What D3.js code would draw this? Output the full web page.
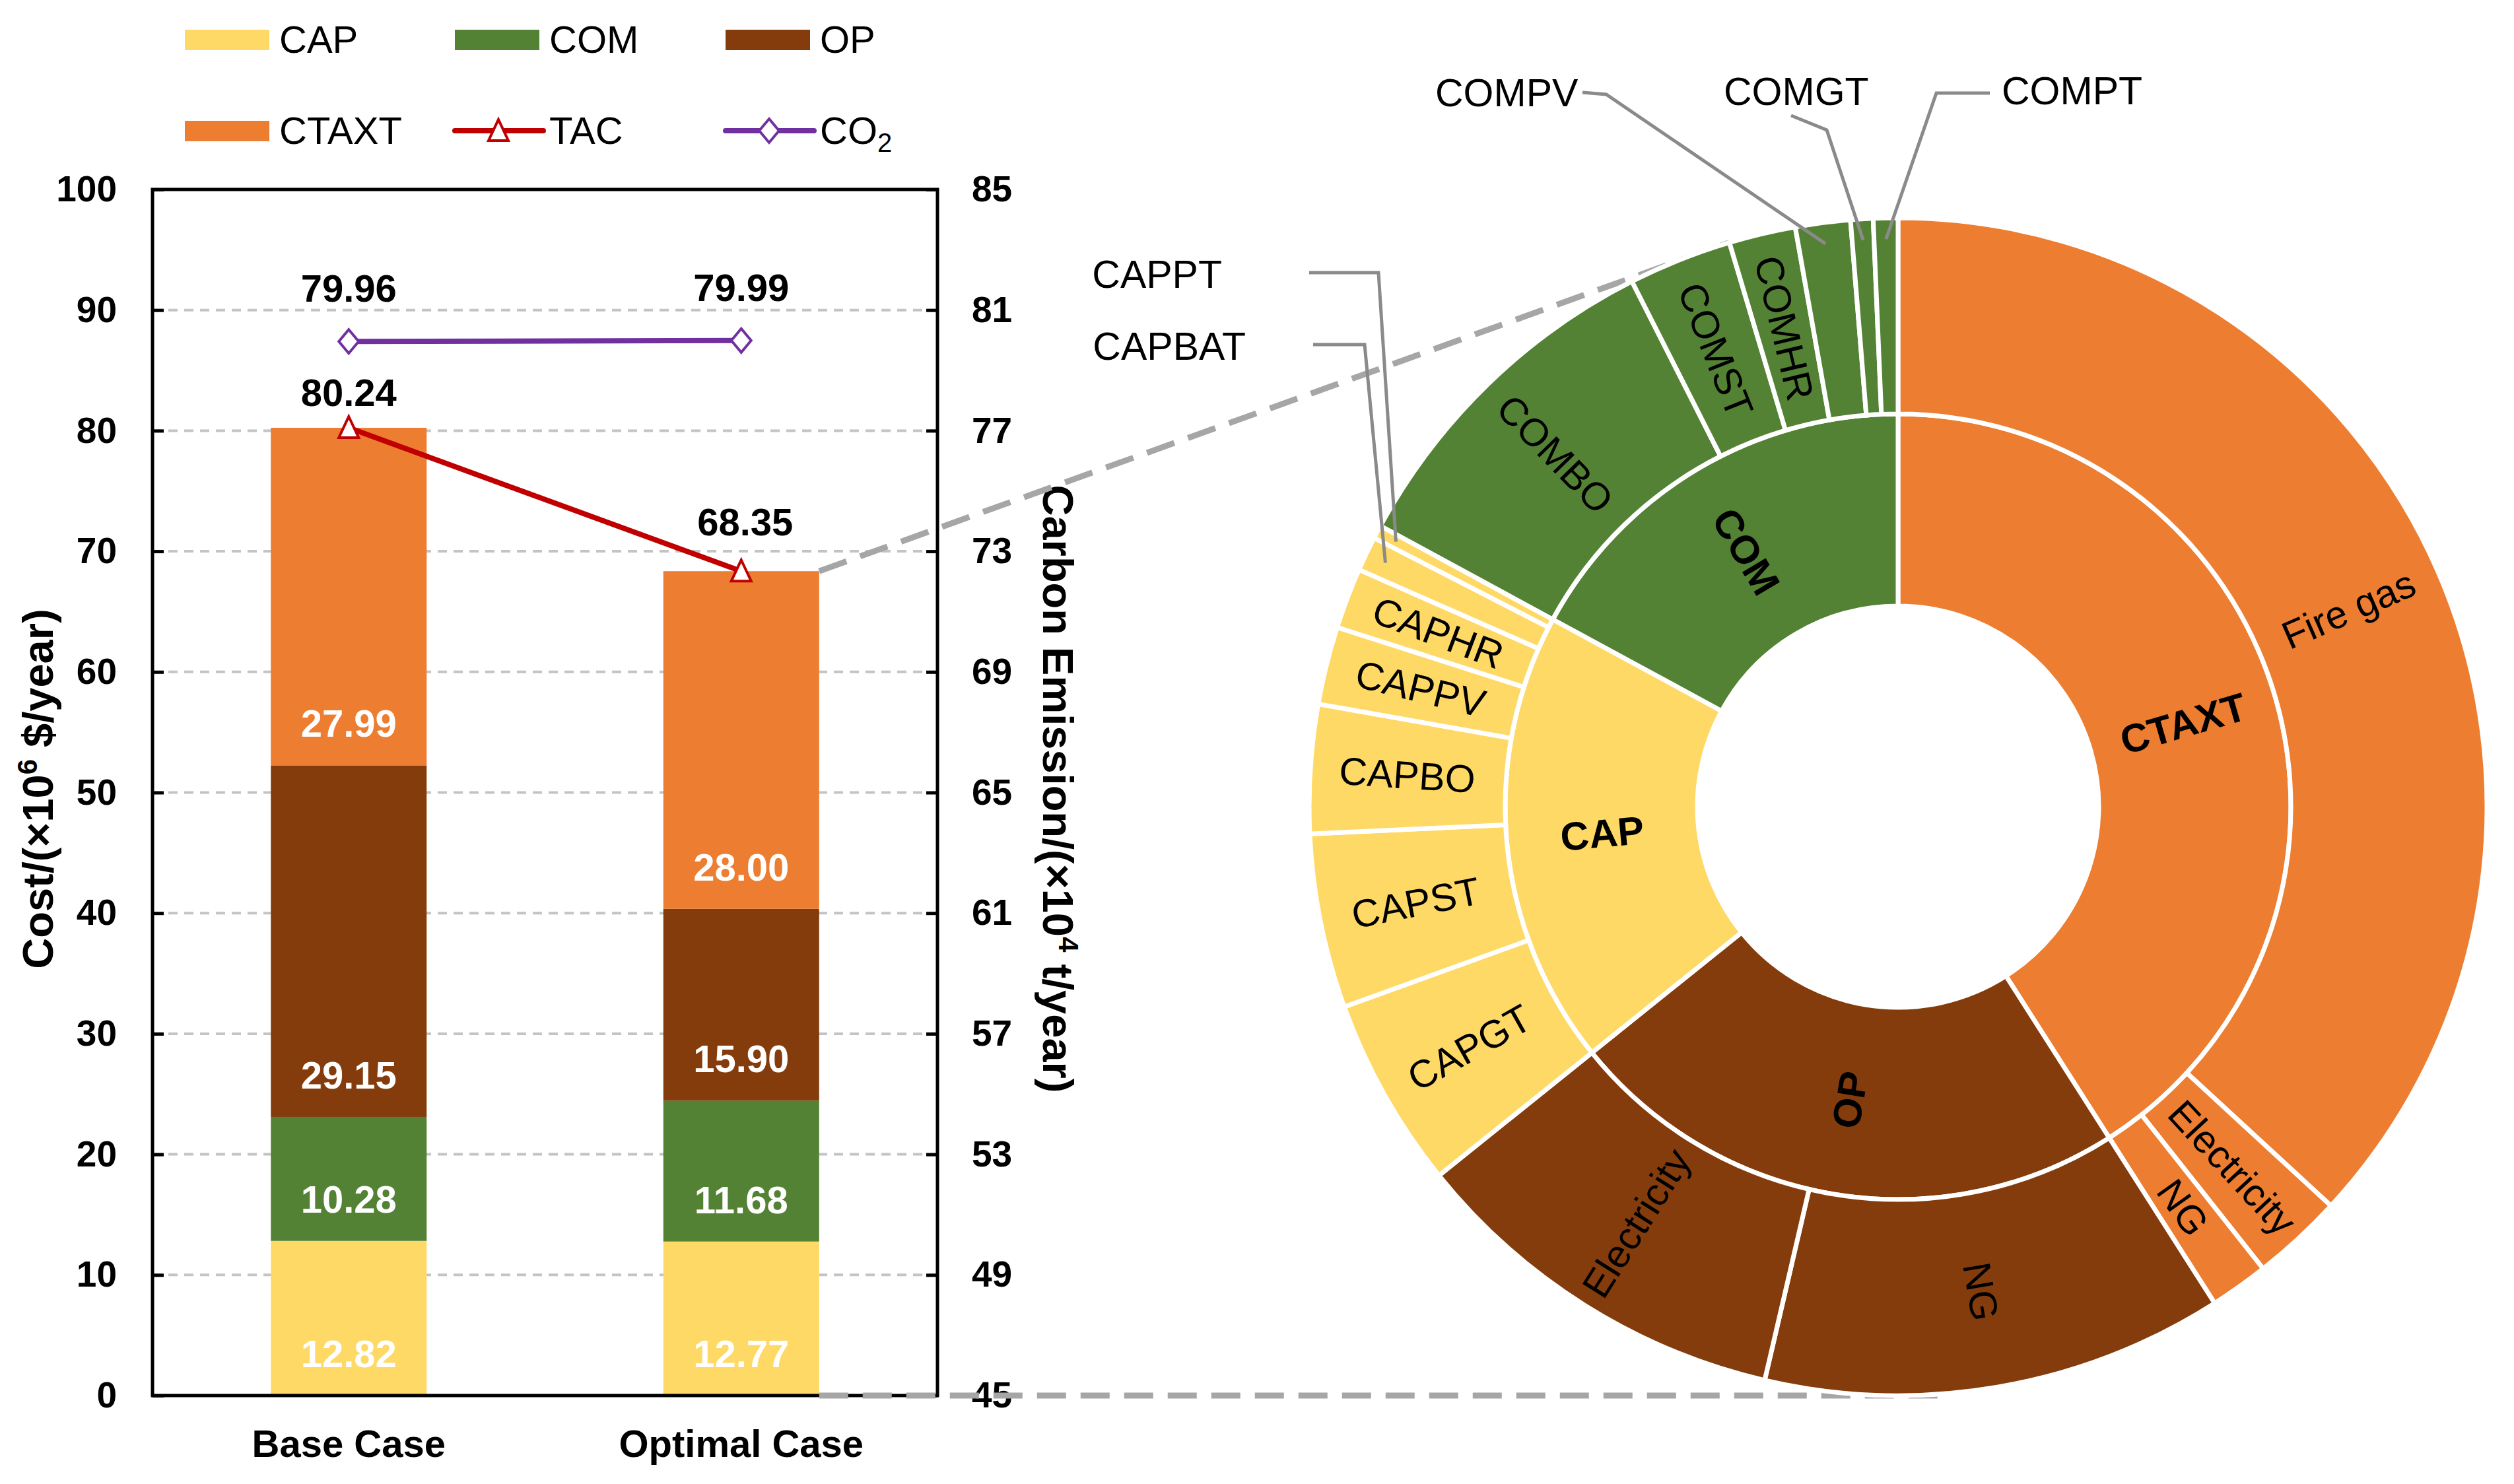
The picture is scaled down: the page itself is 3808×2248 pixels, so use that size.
<!DOCTYPE html>
<html><head><meta charset="utf-8">
<script src="https://cdn.jsdelivr.net/npm/d3@7"></script>
<style>
body{margin:0;background:#fff}
text{font-family:"Liberation Sans",Arial,Helvetica,sans-serif}
</style>
</head><body>
<svg id="c" width="3808" height="2248"></svg>
<script>
// ---------- DATA ----------
const categories = ["Base Case", "Optimal Case"];
const seriesNames = ["CAP", "COM", "OP", "CTAXT"];
const capValues = [12.82, 12.77];
const comValues = [10.28, 11.68];
const opValues = [29.15, 15.90];
const ctaxtValues = [27.99, 28.00];
const tacValues = [80.24, 68.35];
const co2Values = [79.96, 79.99];
const costTicks = [0, 10, 20, 30, 40, 50, 60, 70, 80, 90, 100];
const co2Ticks = [45, 49, 53, 57, 61, 65, 69, 73, 77, 81, 85];

// Sunburst: breakdown of the Optimal Case
const ringParents = ["CTAXT", "OP", "CAP", "COM"];
const ctaxtChildren = ["Fire gas", "Electricity", "NG"];
const ctaxtChildValues = [25.19, 1.71, 1.10];
const opChildren = ["NG", "Electricity"];
const opChildValues = [8.66, 7.24];
const capChildren = ["CAPGT", "CAPST", "CAPBO", "CAPPV", "CAPHR", "CAPBAT", "CAPPT"];
const capChildValues = [3.59, 3.27, 2.41, 1.46, 1.14, 0.65, 0.25];
const comChildren = ["COMBO", "COMST", "COMHR", "COMPV", "COMGT", "COMPT"];
const comChildValues = [6.58, 1.94, 1.25, 1.03, 0.42, 0.46];

// ---------- STYLE ----------
const colors = {CAP: "#FFD966", COM: "#548235", OP: "#843C0C", CTAXT: "#ED7D31"};
const tacColor = "#C00000", co2Color = "#7030A0";
const svg = d3.select("#c");
const plot = {l: 231, r: 1420, t: 287, b: 2114};

const y = d3.scaleLinear().domain([0, 100]).range([plot.b, plot.t]);
const y2 = d3.scaleLinear().domain([45, 85]).range([plot.b, plot.t]);
const x = d3.scalePoint().domain(categories).range([plot.l, plot.r]).padding(0.5);
const bw = 236;

// gridlines
svg.append("g").selectAll("line").data(costTicks.filter(t => t > 0 && t < 100)).join("line")
  .attr("x1", plot.l).attr("x2", plot.r).attr("y1", d => y(d)).attr("y2", d => y(d))
  .attr("stroke", "#c4c4c4").attr("stroke-width", 4).attr("stroke-dasharray", "14,10");

// stacked bars
const rows = categories.map((c, i) => ({cat: c, CAP: capValues[i], COM: comValues[i], OP: opValues[i], CTAXT: ctaxtValues[i]}));
const stacked = d3.stack().keys(seriesNames)(rows);
const gBars = svg.append("g");
stacked.forEach(s => {
  gBars.append("g").attr("fill", colors[s.key]).selectAll("rect").data(s).join("rect")
    .attr("x", d => x(d.data.cat) - bw / 2).attr("width", bw)
    .attr("y", d => y(d[1])).attr("height", d => y(d[0]) - y(d[1]));
  gBars.append("g").selectAll("text").data(s).join("text")
    .attr("x", d => x(d.data.cat)).attr("y", d => y(d[0]) - 43)
    .attr("text-anchor", "middle").attr("fill", "#fff").attr("font-weight", "bold").attr("font-size", 58)
    .text(d => d.data[s.key].toFixed(2));
});

// axes
const axL = svg.append("g").attr("transform", `translate(${plot.l},0)`)
  .call(d3.axisLeft(y).tickValues(costTicks).tickSize(-17).tickPadding(54).tickFormat(d3.format("d")));
const axR = svg.append("g").attr("transform", `translate(${plot.r},0)`)
  .call(d3.axisRight(y2).tickValues(co2Ticks).tickSize(-17).tickPadding(52).tickFormat(d3.format("d")));
[axL, axR].forEach(a => {
  a.select(".domain").remove();
  a.selectAll(".tick line").attr("stroke", "#000").attr("stroke-width", 5);
  a.selectAll(".tick text").attr("font-size", 55).attr("font-weight", "bold").attr("fill", "#000")
    .attr("font-family", '"Liberation Sans",Arial,sans-serif');
});

// plot border
svg.append("rect").attr("x", plot.l).attr("y", plot.t).attr("width", plot.r - plot.l).attr("height", plot.b - plot.t)
  .attr("fill", "none").attr("stroke", "#000").attr("stroke-width", 5);

// category labels
svg.append("g").selectAll("text").data(categories).join("text")
  .attr("x", d => x(d)).attr("y", 2207).attr("text-anchor", "middle")
  .attr("font-size", 58).attr("font-weight", "bold").text(d => d);

// axis titles
const tl = svg.append("text").attr("transform", "translate(80,1195) rotate(-90)")
  .attr("text-anchor", "middle").attr("font-size", 65).attr("font-weight", "bold");
tl.append("tspan").text("Cost/(×10");
tl.append("tspan").attr("font-size", 42).attr("dy", -24).text("6");
tl.append("tspan").attr("dy", 24).text(" $/year)");
const tr = svg.append("text").attr("transform", "translate(1580,1195) rotate(90)")
  .attr("text-anchor", "middle").attr("font-size", 65).attr("font-weight", "bold");
tr.append("tspan").text("Carbon Emission/(×10");
tr.append("tspan").attr("font-size", 42).attr("dy", -24).text("4");
tr.append("tspan").attr("dy", 24).text(" t/year)");

// ---------- SUNBURST ----------
const cx = 2875, cy = 1222;
const R = [0, 304, 595, 892];
const childMap = {
  CTAXT: [ctaxtChildren, ctaxtChildValues], OP: [opChildren, opChildValues],
  CAP: [capChildren, capChildValues], COM: [comChildren, comChildValues]
};
const treeData = {name: "root", children: ringParents.map(p => ({
  name: p, children: childMap[p][0].map((n, i) => ({name: n, value: childMap[p][1][i]}))
}))};
const root = d3.hierarchy(treeData).sum(d => d.value || 0);
d3.partition().size([2 * Math.PI, 3])(root);
const nodes = root.descendants().filter(d => d.depth > 0);
const arc = d3.arc().startAngle(d => d.x0).endAngle(d => d.x1)
  .innerRadius(d => R[Math.round(d.y0)]).outerRadius(d => R[Math.round(d.y1)]);
const pt = (a, r) => [cx + r * Math.sin(a), cy - r * Math.cos(a)];

// connector dashed lines (under donut)
const comst = nodes.find(d => d.data.name === "COMST");
const optX = x("Optimal Case") + bw / 2;
const endTop = pt(comst.x1, R[3]);
const dashStyle = s => s.attr("stroke", "#a6a6a6").attr("stroke-width", 9).attr("stroke-dasharray", "44,22").attr("fill", "none");
svg.append("line").attr("x1", optX).attr("y1", y(tacValues[1])).attr("x2", endTop[0]).attr("y2", endTop[1]).call(dashStyle);
svg.append("line").attr("x1", optX).attr("y1", y(0)).attr("x2", cx + 61).attr("y2", y(0)).call(dashStyle);

const gSun = svg.append("g").attr("transform", `translate(${cx},${cy})`);
gSun.selectAll("path").data(nodes).join("path")
  .attr("d", arc)
  .attr("fill", d => colors[d.depth === 1 ? d.data.name : d.parent.data.name])
  .attr("stroke", "#fff").attr("stroke-width", 7).attr("stroke-linejoin", "miter");

const external = {
  CAPPT: {tx: 1851, ty: 415, anchor: "end", pts: [[1983, 413], [2088, 413]]},
  CAPBAT: {tx: 1887, ty: 524, anchor: "end", pts: [[1989, 522], [2067, 522]]},
  COMPV: {tx: 2174, ty: 140, anchor: "start", pts: [[2397, 140], [2433, 143]]},
  COMGT: {tx: 2611, ty: 138, anchor: "start", pts: [[2713, 175], [2767, 197]]},
  COMPT: {tx: 3032, ty: 137, anchor: "start", pts: [[3014, 141], [2933, 141]]}
};

nodes.forEach(d => {
  const a = (d.x0 + d.x1) / 2;
  const deg = a * 180 / Math.PI;
  const ext = d.depth === 2 ? external[d.data.name] : null;
  if (ext) {
    const e = pt(a, 860);
    svg.append("polyline").attr("points", [...ext.pts, e].map(p => p.join(",")).join(" "))
      .attr("fill", "none").attr("stroke", "#8a8a8a").attr("stroke-width", 5);
    svg.append("text").attr("x", ext.tx).attr("y", ext.ty).attr("dy", "0.35em")
      .attr("text-anchor", ext.anchor).attr("font-size", 59).text(d.data.name);
    return;
  }
  const r = d.depth === 1 ? 450 : 745;
  const p = pt(a, r);
  const rot = deg < 180 ? deg - 90 : deg - 270;
  svg.append("text").attr("transform", `translate(${p[0]},${p[1]}) rotate(${rot})`)
    .attr("text-anchor", "middle").attr("dy", "0.35em")
    .attr("font-size", d.depth === 1 ? 60 : 59).attr("font-weight", d.depth === 1 ? "bold" : "normal")
    .text(d.data.name);
});

// ---------- LINES (TAC / CO2) ----------
const triPath = "M0,-17L15,15L-15,15Z";
const diaPath = "M0,-18L15,0L0,18L-15,0Z";
const co2Line = d3.line().x((d, i) => x(categories[i])).y(d => y2(d));
const tacLine = d3.line().x((d, i) => x(categories[i])).y(d => y(d));
svg.append("path").attr("d", co2Line(co2Values)).attr("fill", "none").attr("stroke", co2Color).attr("stroke-width", 8);
svg.append("path").attr("d", tacLine(tacValues)).attr("fill", "none").attr("stroke", tacColor).attr("stroke-width", 8);
svg.append("g").selectAll("path").data(co2Values).join("path")
  .attr("transform", (d, i) => `translate(${x(categories[i])},${y2(d)})`).attr("d", diaPath)
  .attr("fill", "#fff").attr("stroke", co2Color).attr("stroke-width", 4);
svg.append("g").selectAll("path").data(tacValues).join("path")
  .attr("transform", (d, i) => `translate(${x(categories[i])},${y(d)})`).attr("d", triPath)
  .attr("fill", "#fff").attr("stroke", tacColor).attr("stroke-width", 4);
const tacLabelGap = [33, 54];
svg.append("g").selectAll("text").data(co2Values).join("text")
  .attr("x", (d, i) => x(categories[i])).attr("y", d => y2(d) - 60).attr("text-anchor", "middle")
  .attr("font-size", 58).attr("font-weight", "bold").text(d => d.toFixed(2));
svg.append("g").selectAll("text").data(tacValues).join("text")
  .attr("x", (d, i) => x(categories[i]) + (i ? 6 : 0)).attr("y", (d, i) => y(d) - tacLabelGap[i]).attr("text-anchor", "middle")
  .attr("font-size", 58).attr("font-weight", "bold").text(d => d.toFixed(2));

// ---------- LEGEND ----------
const legCols = [280, 689, 1099], legRows = [60, 198];
const legItems = [
  {name: "CAP", type: "rect"}, {name: "COM", type: "rect"}, {name: "OP", type: "rect"},
  {name: "CTAXT", type: "rect"}, {name: "TAC", type: "tac"}, {name: "CO2", type: "co2"}
];
legItems.forEach((it, i) => {
  const lx = legCols[i % 3], ly = legRows[Math.floor(i / 3)];
  const g = svg.append("g").attr("transform", `translate(${lx},${ly})`);
  if (it.type === "rect") {
    g.append("rect").attr("x", 0).attr("y", -15).attr("width", 128).attr("height", 31).attr("fill", colors[it.name]);
  } else {
    const c = it.type === "tac" ? tacColor : co2Color;
    g.append("line").attr("x1", 0).attr("x2", 134).attr("y1", 0).attr("y2", 0).attr("stroke", c).attr("stroke-width", 8).attr("stroke-linecap", "round");
    g.append("path").attr("transform", "translate(66,0)").attr("d", it.type === "tac" ? triPath : diaPath)
      .attr("fill", "#fff").attr("stroke", c).attr("stroke-width", 4);
  }
  const t = g.append("text").attr("x", 143).attr("y", 20).attr("font-size", 58);
  if (it.name === "CO2") {
    t.append("tspan").text("CO");
    t.append("tspan").attr("font-size", 40).attr("dy", 12).text("2");
  } else t.text(it.name);
});
</script>
</body></html>
